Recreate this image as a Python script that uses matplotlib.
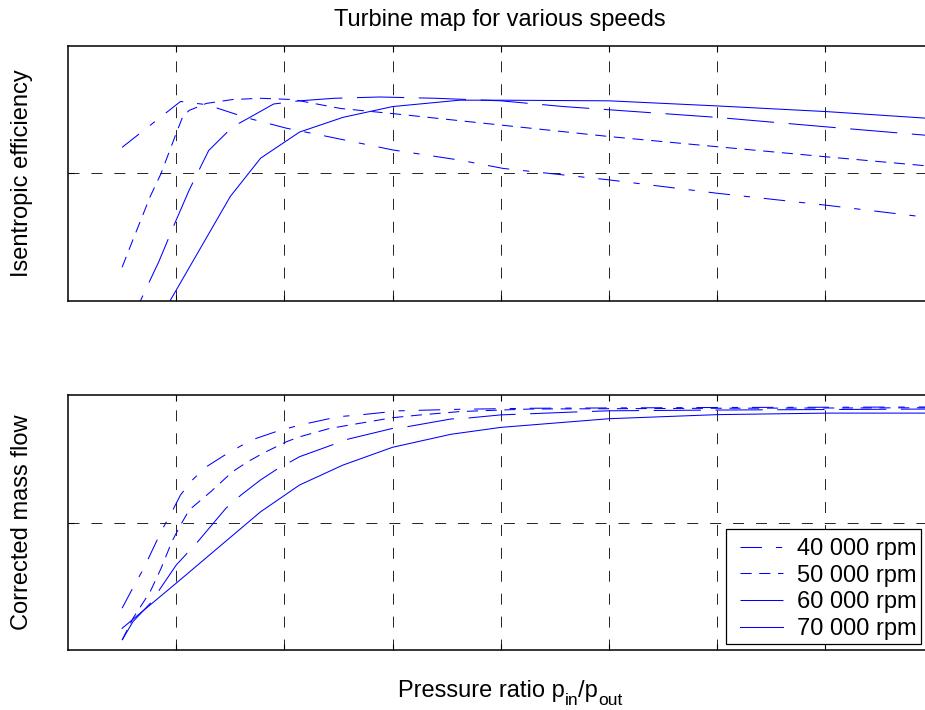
import numpy as np
import matplotlib
matplotlib.use("Agg")
import matplotlib.pyplot as plt
from matplotlib.patches import Rectangle

plt.rcParams["font.family"] = ["Liberation Sans", "DejaVu Sans"]
plt.rcParams["lines.scale_dashes"] = False

# ---------------------------------------------------------------------------
# Data
# ---------------------------------------------------------------------------
speed_labels = ["40 000 rpm", "50 000 rpm", "60 000 rpm", "70 000 rpm"]

# isentropic efficiency vs pressure ratio
eff_40_x = [1.25, 1.52, 1.64, 1.83, 2.01, 2.20, 2.50, 2.81, 3.01, 3.50, 4.00, 4.51, 5.00]
eff_40_y = [0.641, 0.713, 0.708, 0.687, 0.671, 0.658, 0.637, 0.621, 0.608, 0.590, 0.569, 0.550, 0.530]

eff_50_x = [1.25, 1.30, 1.38, 1.43, 1.50, 1.53, 1.56, 1.64, 1.76, 1.89, 2.04, 2.26, 2.50,
            2.75, 3.00, 3.50, 4.00, 4.51, 5.00]
eff_50_y = [0.453, 0.496, 0.564, 0.600, 0.663, 0.689, 0.699, 0.710, 0.716, 0.718, 0.716, 0.702, 0.694,
            0.685, 0.676, 0.658, 0.642, 0.626, 0.611]

eff_60_x = [1.25, 1.33, 1.42, 1.50, 1.56, 1.65, 1.76, 1.84, 1.95, 2.07, 2.23, 2.44, 2.70,
            3.00, 3.29, 3.50, 4.00, 4.51, 5.00]
eff_60_y = [0.342, 0.397, 0.462, 0.527, 0.574, 0.636, 0.673, 0.688, 0.709, 0.714, 0.718, 0.720, 0.718,
            0.714, 0.705, 0.700, 0.688, 0.673, 0.659]

eff_70_x = [1.25, 1.75, 1.89, 2.07, 2.27, 2.50, 2.81, 3.00, 3.50, 4.00, 4.51, 5.00]
eff_70_y = [0.270, 0.564, 0.624, 0.665, 0.688, 0.705, 0.715, 0.715, 0.714, 0.706, 0.697, 0.686]

# corrected mass flow vs pressure ratio
mf_40_x = [1.25, 1.30, 1.35, 1.43, 1.48, 1.52, 1.57, 1.64, 1.72, 1.80, 1.87, 1.96, 2.07,
           2.25, 2.35, 2.53, 2.81, 3.14, 4.00, 5.00]
mf_40_y = [0.164, 0.244, 0.320, 0.464, 0.542, 0.608, 0.663, 0.719, 0.762, 0.801, 0.830, 0.856, 0.882,
           0.915, 0.922, 0.938, 0.944, 0.948, 0.951, 0.953]

mf_50_x = [1.25, 1.30, 1.38, 1.43, 1.48, 1.52, 1.56, 1.66, 1.76, 1.83, 1.90, 2.01, 2.07,
           2.21, 2.50, 2.63, 2.81, 3.00, 3.14, 4.00, 5.00]
mf_50_y = [0.039, 0.124, 0.229, 0.320, 0.425, 0.490, 0.549, 0.621, 0.699, 0.738, 0.771, 0.817, 0.836,
           0.869, 0.911, 0.922, 0.935, 0.941, 0.945, 0.948, 0.950]

mf_60_x = [1.25, 1.30, 1.38, 1.50, 1.55, 1.60, 1.73, 1.80, 1.89, 1.96, 2.07, 2.22, 2.29,
           2.50, 2.57, 2.77, 2.84, 3.00, 3.33, 3.50, 4.00, 5.00]
mf_60_y = [0.039, 0.111, 0.183, 0.333, 0.379, 0.425, 0.556, 0.608, 0.667, 0.706, 0.758, 0.804, 0.826,
           0.869, 0.876, 0.906, 0.909, 0.922, 0.933, 0.938, 0.941, 0.945]

mf_70_x = [1.25, 1.50, 1.89, 2.07, 2.27, 2.50, 2.77, 3.00, 3.50, 4.00, 4.51, 5.00]
mf_70_y = [0.085, 0.262, 0.542, 0.647, 0.725, 0.795, 0.846, 0.873, 0.907, 0.923, 0.929, 0.929]

x_ticks = [1.5, 2.0, 2.5, 3.0, 3.5, 4.0, 4.5]

# ---------------------------------------------------------------------------
# Styles
# ---------------------------------------------------------------------------
W, H = 925, 710
BLUE = "#0000ff"
LW = 0.75
styles = [
    (0, (15.5, 10.0, 4.5, 10.0)),   # dash-dot
    (0, (8.0, 5.5)),                # short dash
    (0, (34.0, 10.5)),              # long dash
    "-",                            # solid
]
FS = 17
FS_SUB = 12.5


def setup_axes(ax, ylim):
    ax.set_xlim(1.0, 5.0)
    ax.set_ylim(*ylim)
    ax.set_xticks(x_ticks)
    ax.set_yticks([(ylim[0] + ylim[1]) / 2])
    ax.tick_params(direction="in", length=4, width=0.8, top=True, right=True,
                   labelbottom=False, labelleft=False)
    ax.grid(True, color="black", linewidth=0.6, linestyle=(0, (7.9, 8.6)))
    for sp in ax.spines.values():
        sp.set_linewidth(1.1)


fig = plt.figure(figsize=(W / 100, H / 100), dpi=100)
ax_w = (933.6 - 68) / W
ax1 = fig.add_axes([68 / W, 1 - 301 / H, ax_w, 255 / H])
ax2 = fig.add_axes([68 / W, 1 - 650 / H, ax_w, 255 / H])

eff_sets = [(eff_40_x, eff_40_y), (eff_50_x, eff_50_y), (eff_60_x, eff_60_y), (eff_70_x, eff_70_y)]
mf_sets = [(mf_40_x, mf_40_y), (mf_50_x, mf_50_y), (mf_60_x, mf_60_y), (mf_70_x, mf_70_y)]

for (x, y), ls in zip(eff_sets, styles):
    ax1.plot(x, y, color=BLUE, linewidth=LW, linestyle=ls)
for (x, y), ls, lab in zip(mf_sets, styles, speed_labels):
    ax2.plot(x, y, color=BLUE, linewidth=LW, linestyle=ls, label=lab)

setup_axes(ax1, (0.4, 0.8))
setup_axes(ax2, (0.0, 1.0))

# legend: frameless legend on top of a hand-placed white box
box = Rectangle((726 / W, 1 - 644 / H), 195 / W, 115 / H, transform=fig.transFigure,
                facecolor="white", edgecolor="black", linewidth=0.9, zorder=4.5,
                clip_on=False)
ax2.add_patch(box)
ax2.legend(loc="upper left", bbox_to_anchor=(740 / W, 1 - 538 / H),
           bbox_transform=fig.transFigure, fontsize=FS, frameon=False,
           handlelength=1.8, handletextpad=0.62, labelspacing=0.2,
           borderpad=0, borderaxespad=0)

fig.text(500 / W, 1 - 20 / H, "Turbine map for various speeds", fontsize=FS,
         ha="center", va="center")
fig.text(22 / W, 1 - 173 / H, "Isentropic efficiency", fontsize=FS,
         rotation=90, ha="center", va="center")
fig.text(22 / W, 1 - 522 / H, "Corrected mass flow", fontsize=FS,
         rotation=90, ha="center", va="center")

# x label with TeX-like low subscripts, placed piece by piece
renderer = fig.canvas.get_renderer()
x_px = 398
base_px = H - 697
pieces = [("Pressure ratio p", FS, 0), ("in", FS_SUB, -8), ("/p", FS, 0), ("out", FS_SUB, -8)]
for txt, size, dy in pieces:
    t = fig.text(x_px / W, (base_px + dy) / H, txt, fontsize=size, ha="left", va="baseline")
    x_px = t.get_window_extent(renderer).x1

fig.savefig("out.png", dpi=100)
